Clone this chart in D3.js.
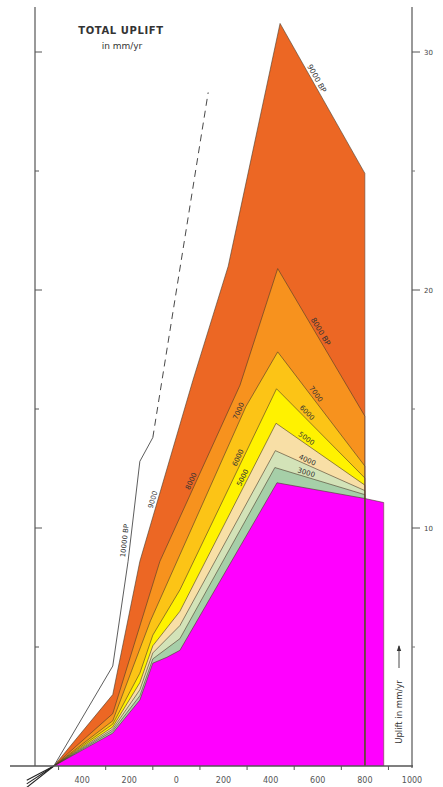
<!DOCTYPE html>
<html>
<head>
<meta charset="utf-8">
<script src="https://cdn.jsdelivr.net/npm/d3@7/dist/d3.min.js"></script>
<style>
  body { margin: 0; background: #fff; }
  svg { display: block; }
  text { font-family: "DejaVu Sans", "Liberation Sans", sans-serif; }
</style>
</head>
<body>
<svg id="chart" width="443" height="787"></svg>
<script>
// Isochrons of total uplift (distance along profile, uplift rate in mm/yr)
const uplift10000 = [[-520, 0], [-270, 4.2], [-205, 8.6], [-155, 12.8], [-100, 13.8]];
const uplift10000Projected = [[-100, 13.8], [135, 28.3]];
const uplift9000 = [[-520, 0], [-270, 3.0], [-155, 8.6], [70, 16.2], [220, 21.0], [440, 31.2], [800, 24.9]];
const uplift8000 = [[-520, 0], [-270, 2.2], [-70, 8.6], [270, 16.0], [430, 20.9], [800, 14.7]];
const uplift7000 = [[-520, 0], [-270, 1.9], [-110, 6.1], [295, 15.1], [430, 17.4], [800, 12.6]];
const uplift6000 = [[-520, 0], [-270, 1.76], [-155, 3.9], [-100, 5.5], [15, 7.4], [425, 15.85], [800, 12.1]];
const uplift5000 = [[-520, 0], [-270, 1.64], [-155, 3.5], [-100, 5.05], [15, 6.5], [423, 14.4], [800, 11.8]];
const uplift4000 = [[-520, 0], [-270, 1.55], [-155, 3.2], [-100, 4.75], [15, 5.9], [420, 13.25], [800, 11.57]];
const uplift3000 = [[-520, 0], [-270, 1.47], [-155, 2.95], [-100, 4.5], [15, 5.35], [418, 12.54], [800, 11.4]];
const upliftInner = [[-520, 0], [-270, 1.38], [-155, 2.77], [-100, 4.32], [-40, 4.57], [15, 4.86], [427, 11.9], [800, 11.24], [880, 11.07]];

const ageLabels = ["10000 BP", "9000", "8000", "7000", "6000", "5000", "4000", "3000"];
const distanceTicks = [-400, -200, 0, 200, 400, 600, 800, 1000];
const distanceTickLabels = ["400", "200", "0", "200", "400", "600", "800", "1000"];
const distanceMinorTicks = [-500, -300, -100, 100, 300, 500, 700, 900];
const upliftTicks = [10, 20, 30];
const upliftMinorTicks = [5, 15, 25];

const svg = d3.select("#chart");
const x = d3.scaleLinear().domain([-600, 1000]).range([35, 412]);
const y = d3.scaleLinear().domain([0, 30]).range([766, 52]);

const fills = ["#EC6724", "#F7921E", "#FCC416", "#FFF200", "#F8DFA6", "#D3E3B8", "#A6CFA8", "#FF00FF"];
const bands = [uplift9000, uplift8000, uplift7000, uplift6000, uplift5000, uplift4000, uplift3000, upliftInner];

const area = d3.area().x(d => x(d[0])).y0(y(0)).y1(d => y(d[1]));
const line = d3.line().x(d => x(d[0])).y(d => y(d[1]));

// stacked bands: each isochron filled down to zero, younger ones drawn over older
const gBands = svg.append("g");
bands.forEach((pts, i) => {
  gBands.append("path").attr("d", area(pts)).attr("fill", fills[i]).attr("stroke", "none");
});
bands.forEach((pts, i) => {
  gBands.append("path").attr("d", line(pts)).attr("fill", "none")
    .attr("stroke", "#4a3a2a").attr("stroke-width", 0.6);
  const last = pts[pts.length - 1];
  gBands.append("line")
    .attr("x1", x(last[0])).attr("x2", x(last[0]))
    .attr("y1", y(last[1])).attr("y2", y(0))
    .attr("stroke", "#6a4a3a").attr("stroke-width", 0.6);
});

// 10000 BP isochron: measured part solid, projected part dashed
svg.append("path").attr("d", line(uplift10000)).attr("fill", "none")
  .attr("stroke", "#333").attr("stroke-width", 0.8);
svg.append("path").attr("d", line(uplift10000Projected)).attr("fill", "none")
  .attr("stroke", "#333").attr("stroke-width", 0.9).attr("stroke-dasharray", "7,5");

// isochrons continuing below the origin
[-0.6, -0.75, -0.9].forEach(v => {
  svg.append("line")
    .attr("x1", x(-520)).attr("y1", y(0))
    .attr("x2", x(-635)).attr("y2", y(v))
    .attr("stroke", "#222").attr("stroke-width", 1.1);
});

// axes
const axisColor = "#777";
svg.append("line").attr("x1", 35).attr("x2", 35).attr("y1", 7).attr("y2", y(0))
  .attr("stroke", axisColor).attr("stroke-width", 1.5);
svg.append("line").attr("x1", 412).attr("x2", 412).attr("y1", 7).attr("y2", y(0) + 2)
  .attr("stroke", axisColor).attr("stroke-width", 1.5);
svg.append("line").attr("x1", 10).attr("x2", 413).attr("y1", y(0)).attr("y2", y(0))
  .attr("stroke", "#555").attr("stroke-width", 1.3);

upliftTicks.forEach(v => {
  svg.append("line").attr("x1", 35).attr("x2", 42).attr("y1", y(v)).attr("y2", y(v))
    .attr("stroke", "#555").attr("stroke-width", 1);
  svg.append("line").attr("x1", 412).attr("x2", 420).attr("y1", y(v)).attr("y2", y(v))
    .attr("stroke", "#555").attr("stroke-width", 1);
  svg.append("text").attr("x", 424).attr("y", y(v) + 2.5).attr("font-size", 7)
    .attr("fill", "#444").text(v);
});
upliftMinorTicks.forEach(v => {
  svg.append("line").attr("x1", 35).attr("x2", 39).attr("y1", y(v)).attr("y2", y(v))
    .attr("stroke", "#555").attr("stroke-width", 1);
  svg.append("line").attr("x1", 412).attr("x2", 415).attr("y1", y(v)).attr("y2", y(v))
    .attr("stroke", "#777").attr("stroke-width", 1);
});
distanceMinorTicks.forEach(v => {
  svg.append("line").attr("x1", x(v)).attr("x2", x(v)).attr("y1", y(0)).attr("y2", y(0) + 4)
    .attr("stroke", "#555").attr("stroke-width", 1);
});
distanceTicks.forEach((v, i) => {
  svg.append("text").attr("x", x(v)).attr("y", 783).attr("text-anchor", "middle")
    .attr("font-size", 8).attr("fill", "#555").text(distanceTickLabels[i]);
});

// title
svg.append("text").attr("x", 121).attr("y", 34).attr("text-anchor", "middle")
  .attr("font-size", 10).attr("font-weight", "bold").attr("letter-spacing", 0.6)
  .attr("fill", "#333").text("TOTAL UPLIFT");
svg.append("text").attr("x", 122).attr("y", 49).attr("text-anchor", "middle")
  .attr("font-size", 9).attr("fill", "#333").text("in mm/yr");

// vertical axis caption with arrow
const cap = svg.append("g").attr("transform", "translate(399,712) rotate(-90)");
cap.append("text").attr("x", 0).attr("y", 0).attr("text-anchor", "middle")
  .attr("font-size", 8.5).attr("fill", "#333").attr("dy", "0.35em").text("Uplift in mm/yr");
cap.append("line").attr("x1", 44).attr("x2", 66).attr("y1", 0).attr("y2", 0)
  .attr("stroke", "#333").attr("stroke-width", 0.9);
cap.append("path").attr("d", "M67,0 L61,-2.2 L61,2.2 Z").attr("fill", "#333");

// labels placed on the isochrons, rotated along the local segment
function pointOn(pts, xv) {
  for (let i = 0; i < pts.length - 1; i++) {
    const a = pts[i], b = pts[i + 1];
    if (xv >= a[0] && xv <= b[0]) {
      const t = (xv - a[0]) / (b[0] - a[0]);
      const px = x(xv), py = y(a[1] + t * (b[1] - a[1]));
      const ang = Math.atan2(y(b[1]) - y(a[1]), x(b[0]) - x(a[0]));
      return { px, py, ang };
    }
  }
  return null;
}
function labelOn(pts, xv, offset, txt, size) {
  const p = pointOn(pts, xv);
  const nx = Math.sin(p.ang), ny = -Math.cos(p.ang);
  const cx = p.px + nx * offset, cy = p.py + ny * offset;
  svg.append("text")
    .attr("transform", `translate(${cx},${cy}) rotate(${p.ang * 180 / Math.PI})`)
    .attr("text-anchor", "middle").attr("dy", "0.35em")
    .attr("font-size", size).attr("fill", "#333").text(txt);
}

labelOn(uplift10000, -195, 6, ageLabels[0], 7);
labelOn(uplift9000, -80, 5, ageLabels[1], 7);
labelOn(uplift8000, 81, 5, ageLabels[2], 7);
labelOn(uplift7000, 283, 5, ageLabels[3], 7);
labelOn(uplift6000, 280, 5, ageLabels[4], 7);
labelOn(uplift5000, 300, 5, ageLabels[5], 7);

labelOn(uplift9000, 578, 5, ageLabels[1] + " BP", 7.5);
labelOn(uplift8000, 594, 5, ageLabels[2] + " BP", 7.5);
labelOn(uplift7000, 576, 5, ageLabels[3], 7);
labelOn(uplift6000, 540, 5, ageLabels[4], 7);
labelOn(uplift5000, 540, 5, ageLabels[5], 7);
labelOn(uplift4000, 548, 4.5, ageLabels[6], 7);
labelOn(uplift3000, 546, 4.5, ageLabels[7], 7);
</script>
</body>
</html>
